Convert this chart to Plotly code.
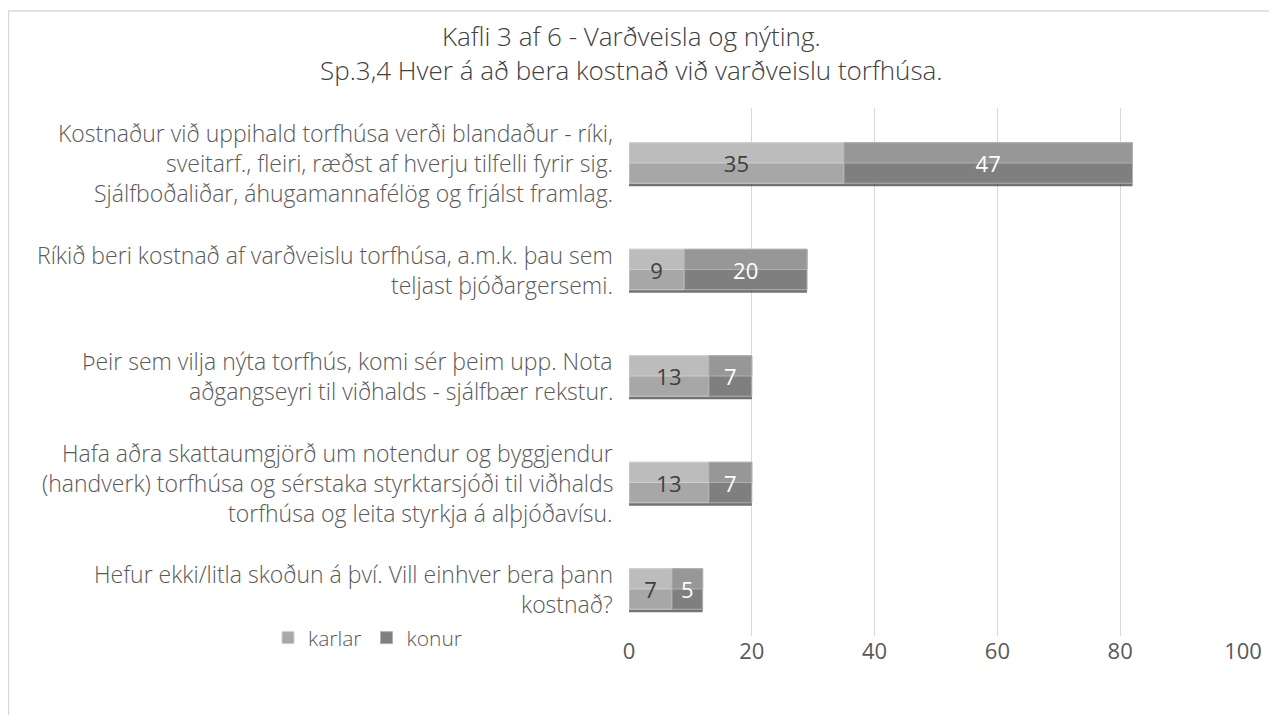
import plotly.graph_objects as go

categories = [
    "Kostnaður við uppihald torfhúsa verði blandaður - ríki,<br>sveitarf., fleiri, ræðst af hverju tilfelli fyrir sig.<br>Sjálfboðaliðar, áhugamannafélög og frjálst framlag.",
    "Ríkið beri kostnað af varðveislu torfhúsa, a.m.k. þau sem<br>teljast þjóðargersemi.",
    "Þeir sem vilja nýta torfhús, komi sér þeim upp. Nota<br>aðgangseyri til viðhalds - sjálfbær rekstur.",
    "Hafa aðra skattaumgjörð um notendur og byggjendur<br>(handverk) torfhúsa og sérstaka styrktarsjóði til viðhalds<br>torfhúsa og leita styrkja á alþjóðavísu.",
    "Hefur ekki/litla skoðun á því. Vill einhver bera þann<br>kostnað?",
]
karlar = [35, 9, 13, 13, 7]
konur = [47, 20, 7, 7, 5]
x_ticks = [0, 20, 40, 60, 80, 100]
title_text = "Kafli 3 af 6 - Varðveisla og nýting.<br>Sp.3,4 Hver á að bera kostnað við varðveislu torfhúsa."

FONT = "Open Sans"
OFF = 8  # browser body margin
W, H = 1277 - OFF, 715 - OFF
PX0, PX1, PY0, PY1 = 629, 1243, 108, 636
L = PX0 - OFF
T = PY0 - OFF
PW, PH = PX1 - PX0, PY1 - PY0
R = W - L - PW
B = H - T - PH


def px(xr):
    return (xr - PX0) / PW


def py(yr):
    return (PY1 - yr) / PH


cat_ids = [f"c{i}" for i in range(len(categories))]
step = (589 - 163) / 4
y_top = (PY0 - 163) / step
y_bot = (PY1 - 163) / step

totals = [a + b for a, b in zip(karlar, konur)]
BW = 0.38

fig = go.Figure()
# soft shadow under the bars
fig.add_trace(go.Bar(
    y=cat_ids, x=totals, base=0, orientation="h", showlegend=False, hoverinfo="skip",
    width=0.04, offset=BW / 2 - 0.012,
    marker=dict(color="rgba(55,55,55,0.7)", line=dict(width=0)),
))
# main bars (lower shade)
fig.add_trace(go.Bar(
    y=cat_ids, x=karlar, base=0, name="karlar", orientation="h",
    width=BW, offset=-BW / 2,
    marker=dict(color="#a7a7a7", line=dict(color="#cfcfcf", width=1)),
))
fig.add_trace(go.Bar(
    y=cat_ids, x=konur, base=karlar, name="konur", orientation="h",
    width=BW, offset=-BW / 2,
    marker=dict(color="#7f7f7f", line=dict(color="#b0b0b0", width=1)),
))
# glossy upper halves
fig.add_trace(go.Bar(
    y=cat_ids, x=karlar, base=0, orientation="h", showlegend=False, hoverinfo="skip",
    width=BW * 0.5, offset=-BW / 2,
    marker=dict(color="#bcbcbc", line=dict(color="#cfcfcf", width=1)),
))
fig.add_trace(go.Bar(
    y=cat_ids, x=konur, base=karlar, orientation="h", showlegend=False, hoverinfo="skip",
    width=BW * 0.5, offset=-BW / 2,
    marker=dict(color="#979797", line=dict(color="#b0b0b0", width=1)),
))
# value labels
fig.add_trace(go.Bar(
    y=cat_ids, x=karlar, base=0, orientation="h", showlegend=False, hoverinfo="skip",
    width=BW, offset=-BW / 2, marker=dict(color="rgba(0,0,0,0)", line=dict(width=0)),
    text=karlar, textposition="inside", insidetextanchor="middle",
    textfont=dict(family=FONT, size=22, color="#404040"),
))
fig.add_trace(go.Bar(
    y=cat_ids, x=konur, base=karlar, orientation="h", showlegend=False, hoverinfo="skip",
    width=BW, offset=-BW / 2, marker=dict(color="rgba(0,0,0,0)", line=dict(width=0)),
    text=konur, textposition="inside", insidetextanchor="middle",
    textfont=dict(family=FONT, size=22, color="#ffffff"),
))

annotations = []
for cid, label in zip(cat_ids, categories):
    lines = label.split("<br>")
    n = len(lines)
    for j, ln in enumerate(lines):
        annotations.append(dict(
            x=0, xref="paper", y=cid, yref="y", xanchor="right", yanchor="middle",
            xshift=-14, yshift=((n - 1) / 2 - j) * 30,
            text=ln, showarrow=False, align="center",
            font=dict(family=FONT, size=23, color="#595959", weight=300),
        ))

annotations.append(dict(
    x=px(631), xref="paper", y=py(53), yref="paper",
    xanchor="center", yanchor="middle", text=title_text, showarrow=False, align="center",
    font=dict(family=FONT, size=26, color="#404040", weight=300),
))

fig.update_layout(
    width=W, height=H,
    margin=dict(l=L, r=R, t=T, b=B, pad=0),
    barmode="overlay",
    plot_bgcolor="white", paper_bgcolor="white",
    showlegend=True,
    legend=dict(orientation="h", x=px(268), y=py(638),
                xanchor="left", yanchor="middle", traceorder="normal",
                font=dict(family=FONT, size=21, color="#595959", weight=300),
                itemwidth=30),
    xaxis=dict(range=[0, 100], tickvals=x_ticks, showgrid=True, gridcolor="#d9d9d9",
               gridwidth=1.3, zeroline=False, showline=False,
               tickfont=dict(family=FONT, size=22, color="#595959"), ticks=""),
    yaxis=dict(categoryorder="array", categoryarray=cat_ids, range=[y_bot, y_top],
               showticklabels=False, showgrid=False, zeroline=False, showline=False),
    annotations=annotations,
    shapes=[dict(type="rect", xref="paper", yref="paper",
                 x0=px(8.5), x1=px(1275.5),
                 y0=py(740), y1=py(11),
                 line=dict(color="#d9d9d9", width=1.5), fillcolor="rgba(0,0,0,0)",
                 layer="below")],
)

fig.write_html("out.html")
